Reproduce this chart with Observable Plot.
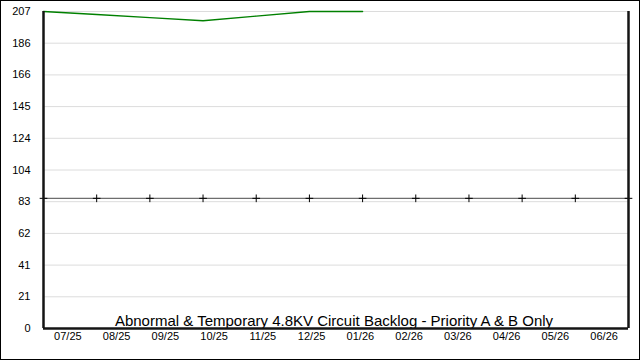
<!DOCTYPE html>
<html>
<head>
<meta charset="utf-8">
<script src="https://cdn.jsdelivr.net/npm/d3@7"></script>
<script src="https://cdn.jsdelivr.net/npm/@observablehq/plot@0.6"></script>
<style>
  html, body { margin: 0; padding: 0; background: white; }
  #chart { position: relative; width: 640px; height: 360px; overflow: hidden; font-family: "Liberation Sans", Arial, sans-serif; }
  #chart svg { position: absolute; top: 0; left: 0; }
  #border { position: absolute; left: 0; top: 0; width: 640px; height: 360px; box-sizing: border-box; border: 1px solid #000; pointer-events: none; }
</style>
</head>
<body>
<div id="chart"><div id="border"></div></div>
<script>
const months = ["07/25","08/25","09/25","10/25","11/25","12/25","01/26","02/26","03/26","04/26","05/26","06/26"];
const backlogMonths = ["07/25","08/25","09/25","10/25","11/25","12/25","01/26"];
const backlogValues = [207, 205, 203, 201, 204, 207, 207];
const targetValues = [85, 85, 85, 85, 85, 85, 85, 85, 85, 85, 85, 85];
const yTickValues = [0, 20.7, 41.4, 62.1, 82.8, 103.5, 124.2, 144.9, 165.6, 186.3, 207];
const title = "Abnormal & Temporary 4.8KV Circuit Backlog - Priority A & B Only";

const backlog = backlogMonths.map((m, i) => ({month: m, value: backlogValues[i]}));
const target = months.map((m, i) => ({month: m, value: targetValues[i]}));

const W = 640, H = 360, mL = 43, mR = 12, mT = 11, mB = 32;
const font = "Liberation Sans, Arial, sans-serif";

const main = Plot.plot({
  width: W, height: H,
  marginLeft: mL, marginRight: mR, marginTop: mT, marginBottom: mB,
  style: {fontFamily: font, fontSize: "11px", background: "transparent", color: "#000"},
  x: {type: "point", domain: months, padding: 0, round: false, axis: null},
  y: {domain: [0, 207], ticks: yTickValues, label: null},
  marks: [
    Plot.gridY(yTickValues, {stroke: "#dcdcdc", strokeOpacity: 1, strokeWidth: 1}),
    Plot.axisY(yTickValues, {tickSize: 0, tickPadding: 13, tickFormat: d => Math.round(d), fontSize: 11, fill: "#000", label: null}),
    Plot.line(target, {x: "month", y: "value", stroke: "#6e6e6e", strokeWidth: 1.3}),
    Plot.dot(target, {x: "month", y: "value", symbol: "plus", r: 2.6, stroke: "#000", strokeWidth: 1}),
    Plot.line(backlog, {x: "month", y: "value", stroke: "#008000", strokeWidth: 1.4}),
    Plot.text([title], {frameAnchor: "bottom", lineAnchor: "bottom", dx: -2, dy: -3, fontSize: 15, fill: "#000"}),
    Plot.ruleX([months[0], months[months.length - 1]], {stroke: "#141414", strokeWidth: 2.5}),
    Plot.ruleY([0], {stroke: "#141414", strokeWidth: 2.5})
  ]
});

const xAxis = Plot.plot({
  width: W, height: H,
  marginLeft: mL, marginRight: mR, marginTop: mT, marginBottom: mB,
  style: {fontFamily: font, fontSize: "11px", background: "transparent", color: "#000"},
  x: {type: "band", domain: months, padding: 0, round: false, label: null},
  marks: [
    Plot.axisX({tickSize: 0, tickPadding: 4, fontSize: 11, fill: "#000", label: null})
  ]
});

const chart = document.getElementById("chart");
chart.insertBefore(xAxis, chart.firstChild);
chart.insertBefore(main, chart.firstChild);
</script>
</body>
</html>
